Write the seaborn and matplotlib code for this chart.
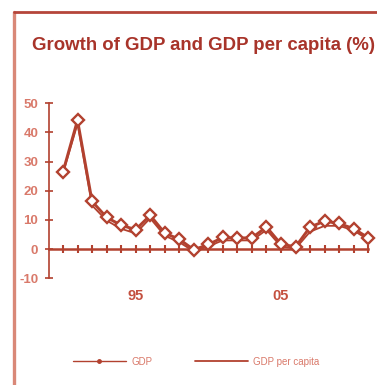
import matplotlib
matplotlib.use("Agg")
import matplotlib.pyplot as plt
from matplotlib.lines import Line2D
import numpy as np
import pandas as pd
import seaborn as sns

# Annual growth rates, 1990-2011 (%)
years = list(range(1990, 2012))
gdp = [26.5, 44.2, 16.4, 10.9, 8.2, 6.7, 11.6, 5.5, 3.4, -0.2,
       1.6, 4.0, 3.8, 3.9, 7.6, 1.7, 0.8, 7.6, 9.6, 8.8, 7.0, 3.9]
gdp_per_capita = [26.0, 43.0, 15.0, 9.8, 7.0, 5.4, 10.6, 4.6, 2.4, -0.8,
                  1.0, 3.0, 3.0, 3.0, 6.6, 0.9, 0.2, 6.0, 8.0, 8.0, 6.4, 3.2]
tick_labels = {1995: "95", 2005: "05"}

RED = "#b2412f"
SALMON = "#d9796a"
TITLE_RED = "#a8342a"

sns.set_style("white")
plt.rcParams["font.family"] = ["Liberation Sans", "DejaVu Sans"]
plt.rcParams["axes.unicode_minus"] = False

df = pd.DataFrame({"idx": np.arange(len(years)), "year": years,
                   "gdp": gdp, "pc": gdp_per_capita})

fig = plt.figure(figsize=(3.77, 3.85), dpi=100)
ax = fig.add_axes([0.1308, 0.2771, 0.846, 0.4545])

sns.lineplot(data=df, x="idx", y="pc", ax=ax, color=RED, linewidth=1.3,
             clip_on=False, zorder=3)
sns.lineplot(data=df, x="idx", y="gdp", ax=ax, color=RED, linewidth=2.1,
             marker="D", markersize=5.8, markerfacecolor="white",
             markeredgecolor=RED, markeredgewidth=1.7, clip_on=False, zorder=4)

ax.set_xlim(-0.94, len(years) - 1)
ax.set_ylim(-10, 50)
ax.set_xlabel("")
ax.set_ylabel("")

for side in ("top", "right"):
    ax.spines[side].set_visible(False)
ax.spines["bottom"].set_position(("data", 0))
ax.spines["bottom"].set_color(RED)
ax.spines["bottom"].set_linewidth(1.8)
ax.spines["left"].set_color(RED)
ax.spines["left"].set_linewidth(1.2)

ax.set_yticks(np.arange(-10, 51, 10))
ax.tick_params(axis="y", direction="inout", length=6, width=1.2, color=RED,
               labelcolor=SALMON, labelsize=9.5, pad=5, left=True)
for lbl in ax.get_yticklabels():
    lbl.set_fontweight("bold")

ax.set_xticks(df["idx"])
ax.set_xticklabels([])
ax.tick_params(axis="x", direction="inout", length=6, width=1.5, color=RED,
               bottom=True)

trans = matplotlib.transforms.blended_transform_factory(ax.transData, ax.transAxes)
for yr, lab in tick_labels.items():
    ax.text(years.index(yr), -0.10, lab, transform=trans, ha="center",
            va="center", fontsize=10.5, fontweight="bold", color="#c4503f")

fig.text(0.085, 1 - 45 / 385, "Growth of GDP and GDP per capita (%)",
         ha="left", va="center", fontsize=13.4, fontweight="bold", color=TITLE_RED)

# Frame lines along the top and left edges of the panel
fig.add_artist(Line2D([14 / 377, 14 / 377], [0, 1 - 12 / 385],
                      transform=fig.transFigure, color="#d98878", linewidth=2.4))
fig.add_artist(Line2D([14 / 377, 1], [1 - 12 / 385, 1 - 12 / 385],
                      transform=fig.transFigure, color="#b5453a", linewidth=2.0))

handles = [Line2D([], [], color=RED, linewidth=1.0, marker="o", markersize=2.5),
           Line2D([], [], color=RED, linewidth=1.3)]
fig.legend(handles, ["GDP", "GDP per capita"], loc="center left",
           bbox_to_anchor=(73 / 377, 1 - 361.7 / 385), ncol=2, frameon=False,
           fontsize=7, handlelength=5.4, handletextpad=0.6, columnspacing=4.4,
           borderpad=0, borderaxespad=0, labelcolor=SALMON)

fig.savefig("out.png", dpi=100)
